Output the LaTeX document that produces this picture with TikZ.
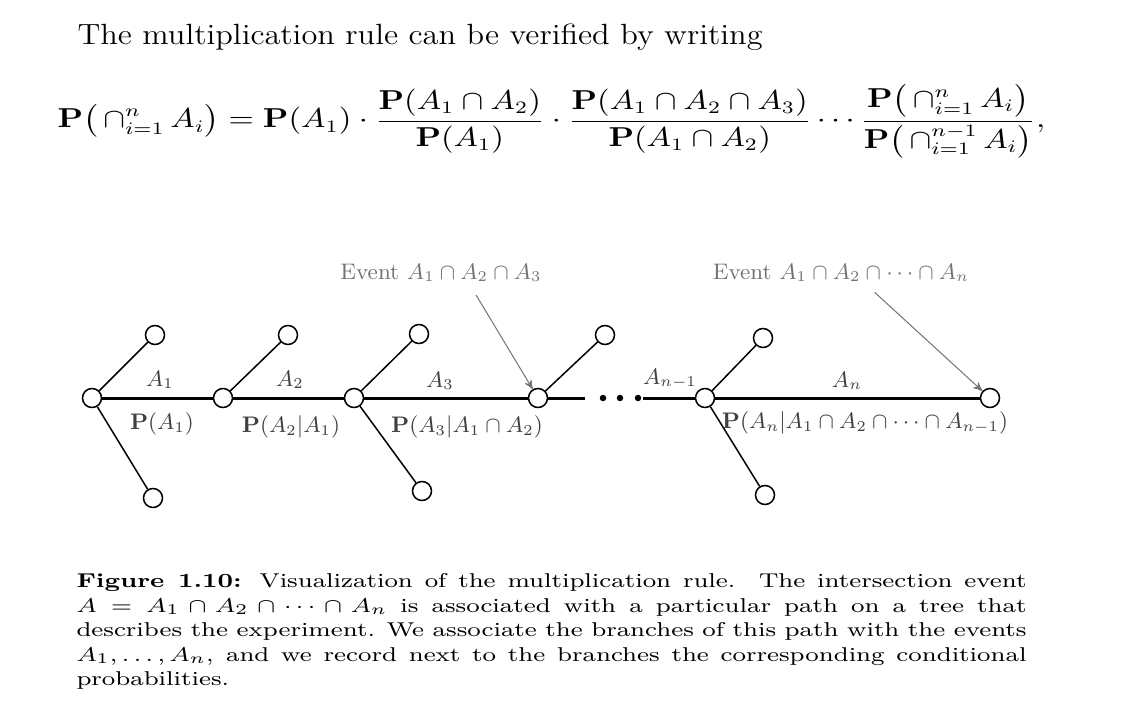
\documentclass[tikz,border=0pt]{standalone}
\usepackage{amsmath}
\usepackage{graphicx}
\usepackage{tikz}
\usetikzlibrary{positioning}
\usetikzlibrary{arrows}

\begin{document}
\begin{tikzpicture}[x=0.4pt, y=-0.4pt,
    leaf/.style={circle, draw=black, fill=white, line width=0.6pt, minimum size=7.6pt, inner sep=0pt},
    branch/.style={line width=0.6pt},
    spine/.style={line width=1.2pt},
    lbl/.style={text=black!75, inner sep=0pt, font=\fontsize{9}{11}\selectfont},
    eventlbl/.style={text=black!55, inner sep=0pt, font=\fontsize{9}{11}\selectfont},
    pointer/.style={->, >=stealth', draw=black!55, line width=0.4pt}]
    \useasboundingbox (0,0) rectangle (1145,725);

    % text above the figure
    \node [anchor=base west, inner sep=0pt] (intro) at (77,45) {\resizebox{274pt}{\height}{\fontsize{11.7}{14}\selectfont The multiplication rule can be verified by writing}};
    \node [anchor=base west, inner sep=0pt] (rule) at (57,128) {\resizebox{395pt}{\height}{\fontsize{10.5}{13}\selectfont$\displaystyle
        \mathbf{P}\bigl(\,\cap_{i=1}^n\, A_i\bigr)=\mathbf{P}(A_1)\cdot\frac{\mathbf{P}(A_1\cap A_2)}{\mathbf{P}(A_1)}\cdot\frac{\mathbf{P}(A_1\cap A_2\cap A_3)}{\mathbf{P}(A_1\cap A_2)}\cdots\frac{\mathbf{P}\bigl(\,\cap_{i=1}^n\, A_i\bigr)}{\mathbf{P}\bigl(\,\cap_{i=1}^{n-1}\, A_i\bigr)},$}};

    % the path of the tree
    \node [leaf] (n0) at (92,398) {};
    \node [leaf] (n1) at (223,398) {};
    \node [leaf] (n2) at (354,398) {};
    \node [leaf] (n3) at (538,398) {};
    \node [leaf] (n4) at (705,398) {};
    \node [leaf] (n5) at (990,398) {};
    \coordinate (cutL) at (585,398);
    \coordinate (cutR) at (643,398);

    % the other branches
    \node [leaf] (up0) at (155,335) {};
    \node [leaf] (up1) at (288,335) {};
    \node [leaf] (up2) at (419,334) {};
    \node [leaf] (up3) at (605,335) {};
    \node [leaf] (up4) at (763,338) {};
    \node [leaf] (dn0) at (153,498) {};
    \node [leaf] (dn2) at (422,491) {};
    \node [leaf] (dn4) at (765,495) {};

    \draw [branch] (n0) -- (up0);
    \draw [branch] (n0) -- (dn0);
    \draw [branch] (n1) -- (up1);
    \draw [branch] (n2) -- (up2);
    \draw [branch] (n2) -- (dn2);
    \draw [branch] (n3) -- (up3);
    \draw [branch] (n4) -- (up4);
    \draw [branch] (n4) -- (dn4);

    \draw [spine] (n0) -- (n1) -- (n2) -- (n3) -- (cutL);
    \draw [spine] (cutR) -- (n4) -- (n5);
    \fill (603,398) circle (1.3pt);
    \fill (620,398) circle (1.3pt);
    \fill (638,398) circle (1.3pt);

    % events and probabilities on the branches
    \node [lbl] (a1) at (160,380) {$A_1$};
    \node [lbl] (a2) at (290,380) {$A_2$};
    \node [lbl] (a3) at (440,381) {$A_3$};
    \node [lbl] (an1) at (670,379) {$A_{n-1}$};
    \node [lbl] (an) at (847,381) {$A_n$};
    \node [lbl] (p1) at (162,424) {$\mathbf{P}(A_1)$};
    \node [lbl] (p2) at (291,427) {$\mathbf{P}(A_2|A_1)$};
    \node [lbl] (p3) at (467,427) {$\mathbf{P}(A_3|A_1\cap A_2)$};
    \node [lbl] (pn) at (865,423) {$\mathbf{P}(A_n|A_1\cap A_2\cap\cdots\cap A_{n-1})$};

    \node [eventlbl] (ev3) at (441,273) {Event $A_1\cap A_2\cap A_3$};
    \node [eventlbl] (evn) at (841,273) {Event $A_1\cap A_2\cap\cdots\cap A_n$};
    \draw [pointer] ([xshift=14pt, yshift=-5pt]ev3.south) -- (n3);
    \draw [pointer] ([xshift=13.5pt, yshift=-4pt]evn.south) -- (n5);

    % caption
    \node [anchor=north west, inner sep=0pt] (caption) at (76,573) {\resizebox{380pt}{\height}{\parbox[t]{300pt}{\fontsize{8}{9.8}\selectfont
        \textbf{Figure 1.10:} Visualization of the multiplication rule.\ \ The intersection event\linebreak
        $A=A_1\cap A_2\cap\cdots\cap A_n$ is associated with a particular path on a tree that\linebreak
        describes the experiment. We associate the branches of this path with the events\linebreak
        $A_1,\ldots,A_n$, and we record next to the branches the corresponding conditional\linebreak
        probabilities.}}};
\end{tikzpicture}
\end{document}
